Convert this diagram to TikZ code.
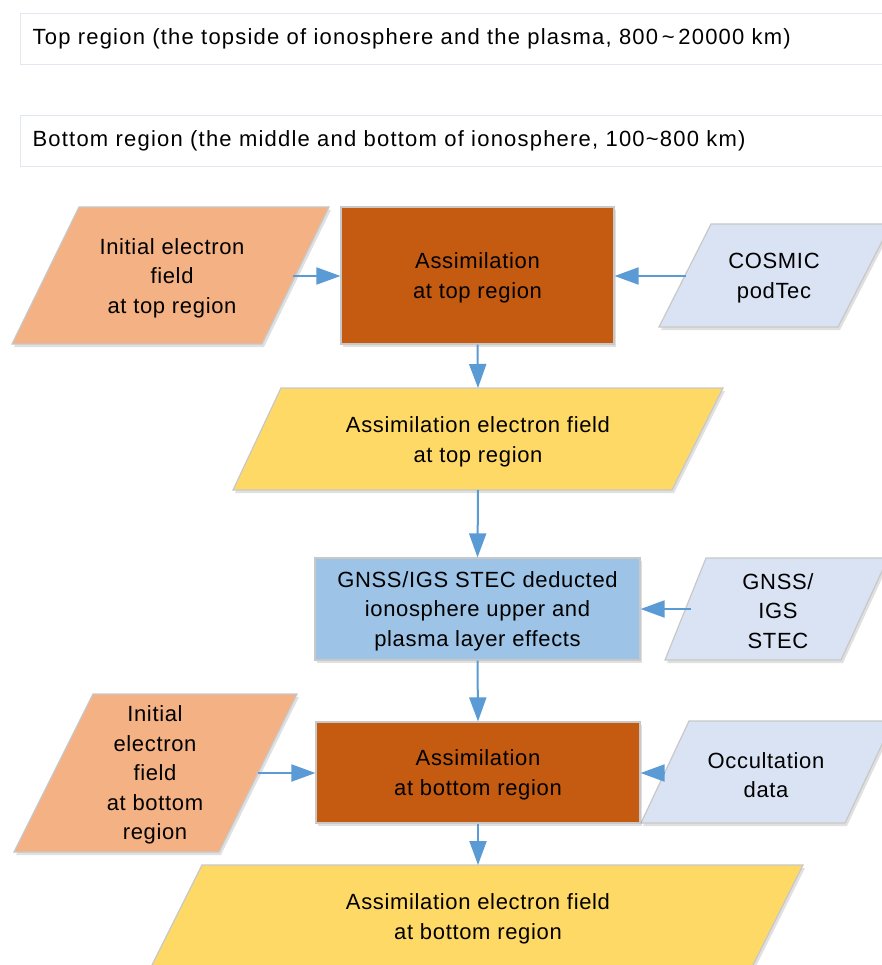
\documentclass[tikz,border=0pt]{standalone}
\usepackage{fontspec}
\setmainfont[LetterSpace=3]{Liberation Sans}
\newfontfamily\hdrfont[LetterSpace=5.5]{Liberation Sans}
\usetikzlibrary{arrows.meta,shadows}
\definecolor{salmon}{HTML}{F4B183}
\definecolor{rust}{HTML}{C55A11}
\definecolor{lav}{HTML}{DAE3F3}
\definecolor{yel}{HTML}{FFD966}
\definecolor{sky}{HTML}{9DC3E6}
\definecolor{edgegray}{HTML}{C8C8C8}
\definecolor{hdredge}{HTML}{E2E7F0}
\definecolor{arrowblue}{HTML}{5B9BD5}
\begin{document}
\begin{tikzpicture}[x=1pt,y=-1pt,
  shp/.style={draw=edgegray, line width=1.2pt,
    drop shadow={opacity=0.12, shadow xshift=2pt, shadow yshift=-3pt, fill=black}},
  txt/.style={align=center, font=\fontsize{22}{29.5}\selectfont, inner sep=0pt},
  rbox/.style={rectangle, shp, txt, text depth=0pt},
  hdr/.style={rectangle, draw=hdredge, line width=1.2pt, fill=white, anchor=north west,
    minimum height=51pt, text width=856pt, inner xsep=12pt, align=left,
    font=\hdrfont\fontsize{22}{29.5}\selectfont},
  arr/.style={draw=arrowblue, line width=2pt, -{Triangle[length=24pt,width=17pt]}}]
\useasboundingbox (0,0) rectangle (882,965);
\clip (0,0) rectangle (882,965);
\fill[white] (0,0) rectangle (882,965);

% headers
\node[hdr] (topreg) at (20,13) {Top region (the topside of ionosphere and the plasma, 800\,\textasciitilde\,20000 km)};
\node[hdr] (botreg) at (20,115) {Bottom region (the middle and bottom of ionosphere, 100\textasciitilde800 km)};

% parallelograms
\filldraw[shp, fill=salmon] (79,207) -- (329,207) -- (262,344) -- (12,344) -- cycle;
\node[txt] (initT) at (172,278) {Initial electron\\field\\at top region};
\coordinate (initTo) at (293,276);

\filldraw[shp, fill=lav] (711,224) -- (891,224) -- (838,327) -- (659,327) -- cycle;
\node[txt] (cosmic) at (774,278) {COSMIC\\podTec};
\coordinate (cosmicO) at (686,276);

\filldraw[shp, fill=yel] (281,388) -- (723,388) -- (672,490) -- (233,490) -- cycle;
\node[txt] (yelT) at (478,442) {Assimilation electron field\\at top region};
\coordinate (yelTin) at (478,388);
\coordinate (yelTout) at (478,490);

\filldraw[shp, fill=lav] (706,558) -- (888,558) -- (841,660) -- (665,660) -- cycle;
\node[txt] (gnssP) at (778,611) {GNSS/\\IGS\\STEC};
\coordinate (gnssO) at (691,609);

\filldraw[shp, fill=salmon] (93,694) -- (297,694) -- (219,852) -- (14,852) -- cycle;
\node[txt] (initB) at (155,775) {Initial\\electron\\field\\at bottom\\region};
\coordinate (initBo) at (258,773);

\filldraw[shp, fill=lav] (689,721) -- (893,721) -- (845,823) -- (641,823) -- cycle;
\node[txt] (occ) at (766,775) {Occultation\\data};
\coordinate (occO) at (665,773);

\filldraw[shp, fill=yel] (202,865) -- (803,865) -- (748,975) -- (147,975) -- cycle;
\node[txt] (yelB) at (478,919) {Assimilation electron field\\at bottom region};
\coordinate (yelBin) at (478,865);

% rectangles
\node[rbox, fill=rust, minimum width=273pt, minimum height=137pt] (assimT) at (477.5,275.5) {Assimilation\\at top region};
\node[rbox, fill=sky, minimum width=325pt, minimum height=102pt] (gnssBox) at (477.5,609) {GNSS/IGS STEC deducted\\ionosphere upper and\\plasma layer effects};
\node[rbox, fill=rust, minimum width=324pt, minimum height=101pt] (assimB) at (478,772.5) {Assimilation\\at bottom region};

% connectors
\draw[arr] (initTo) -- (assimT.west |- initTo);
\draw[arr] (cosmicO) -- (assimT.east |- cosmicO);
\draw[arr] (assimT.south) -- (yelTin);
\draw[arr] (yelTout) -- (gnssBox.north);
\draw[arr] (gnssO) -- (gnssBox.east |- gnssO);
\draw[arr] (gnssBox.south) -- (assimB.north);
\draw[arr] (initBo) -- (assimB.west |- initBo);
\draw[arr] (occO) -- (assimB.east |- occO);
\draw[arr] (assimB.south) -- (yelBin);
\end{tikzpicture}
\end{document}
